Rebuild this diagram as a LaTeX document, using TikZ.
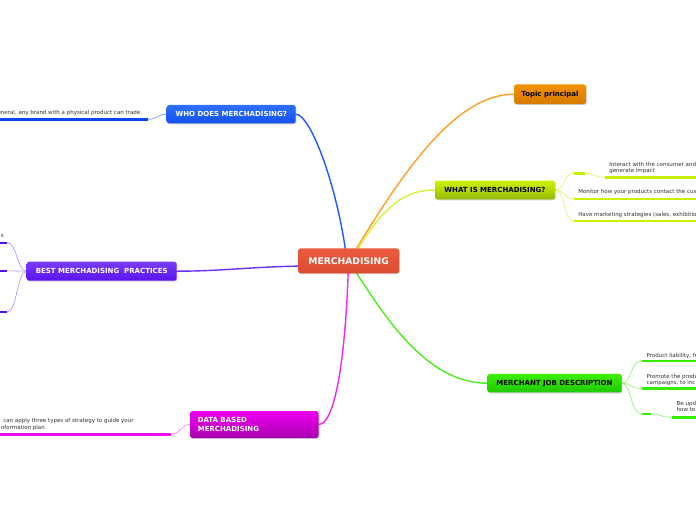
\documentclass[tikz,border=0pt]{standalone}
\usepackage{fontspec}
\setmainfont{DejaVu Sans}
\usetikzlibrary{shadows,backgrounds}
\definecolor{cenT}{HTML}{EC5A3E}
\definecolor{cenB}{HTML}{DC4C32}
\definecolor{topT}{HTML}{F29200}
\definecolor{topB}{HTML}{D67A00}
\definecolor{whaT}{HTML}{CDF200}
\definecolor{whaB}{HTML}{94BC00}
\definecolor{merT}{HTML}{3CF000}
\definecolor{merB}{HTML}{1EC800}
\definecolor{whoT}{HTML}{2E70FF}
\definecolor{whoB}{HTML}{1450F2}
\definecolor{besT}{HTML}{7A3CFF}
\definecolor{besB}{HTML}{5A14F0}
\definecolor{datT}{HTML}{F000F0}
\definecolor{datB}{HTML}{A800B0}
\definecolor{lnOra}{HTML}{FF9E2A}
\definecolor{lnYel}{HTML}{D8F23A}
\definecolor{lnGre}{HTML}{4CEE1E}
\definecolor{lnBlu}{HTML}{2258FF}
\definecolor{lnPur}{HTML}{6A30FF}
\definecolor{lnMag}{HTML}{F028F0}
\definecolor{thYel}{HTML}{DDF56A}
\definecolor{thGre}{HTML}{8CF070}
\definecolor{thBlu}{HTML}{7090FF}
\definecolor{thPur}{HTML}{A98BFF}
\definecolor{thMag}{HTML}{FF70FF}
\definecolor{ulYel}{HTML}{CCF000}
\definecolor{ulGre}{HTML}{38EE00}
\definecolor{ulBlu}{HTML}{0E44EE}
\definecolor{ulPur}{HTML}{5410EE}
\definecolor{ulMag}{HTML}{EE10EE}
\definecolor{leafgray}{HTML}{333333}
\begin{document}
\begin{tikzpicture}[x=1pt,y=-1pt,
  box/.style={rounded corners=2.5pt, inner sep=0pt, outer sep=0pt,
    font=\fontsize{7}{8.3}\selectfont\bfseries,
    drop shadow={opacity=0.3, shadow xshift=0.7pt, shadow yshift=-0.9pt, fill=black!60}},
  leaf/.style={font=\fontsize{5.5}{6.6}\selectfont, text=leafgray, inner sep=0pt, outer sep=0pt, align=left},
  mainln/.style={line width=1.4pt, line cap=round},
  twig/.style={line width=0.6pt},
  uline/.style={line width=2.4pt}]
\useasboundingbox (0,0) rectangle (696,520);

% main nodes
\node[box, minimum width=101pt, minimum height=25pt, top color=cenT, bottom color=cenB, text=white,
  font=\fontsize{9.2}{10}\selectfont\bfseries] (c) at (348.6,260.8) {MERCHADISING};
\node[box, minimum width=72pt, minimum height=19.7pt, top color=topT, bottom color=topB] (tp) at (550,94.2) {Topic principal};
\node[box, minimum width=120pt, minimum height=18.7pt, top color=whaT, bottom color=whaB] (wh) at (495,190) {WHAT IS MERCHADISING?};
\node[box, minimum width=134.4pt, minimum height=18.5pt, top color=merT, bottom color=merB] (me) at (554.5,383.2) {MERCHANT JOB DESCRIPTION};
\node[box, minimum width=129pt, minimum height=18.5pt, top color=whoT, bottom color=whoB, text=white] (wo) at (231.2,114.2) {WHO DOES MERCHADISING?};
\node[box, minimum width=150pt, minimum height=19pt, top color=besT, bottom color=besB, text=white] (be) at (101.7,271.2) {BEST MERCHADISING\ \ PRACTICES};
\node[box, minimum width=128.5pt, minimum height=27pt, top color=datT, bottom color=datB, text=white,
  align=left, text width=113pt] (da) at (254.3,424.5) {DATA BASED\\MERCHADISING};

% leaf texts
\node[leaf, anchor=north west] (t1) at (609.3,161.5) {\rule{0pt}{4.5pt}Interact with the consumer and\\generate impact};
\node[leaf, anchor=base west] (t2) at (578.3,193.8) {Monitor how your products contact the cus};
\node[leaf, anchor=base west] (t3) at (578.3,216.3) {Have marketing strategies (sales, exhibitio};
\node[leaf, anchor=base west] (mt1) at (646.7,357) {Product liability, fr};
\node[leaf, anchor=north west] (mt2) at (646.7,373.5) {\rule{0pt}{4.5pt}Promote the produ\\campaigns, to inc};
\node[leaf, anchor=north west] (mt3) at (676.7,400.8) {\rule{0pt}{4.5pt}Be upd\\how to};
\node[leaf, anchor=base east] (ot1) at (142,114.5) {eneral, any brand with a physical product can trade.};
\node[leaf, anchor=base west] (bt1) at (1,237.8) {s};
\node[leaf, anchor=north west] (dt1) at (3.3,418) {\rule{0pt}{4.5pt}can apply three types of strategy to guide your\\\hspace*{-2.3pt}nformation plan};

% coordinates
\coordinate (w1a) at (573.5,173.3); \coordinate (w1b) at (585,173.3);
\coordinate (w1c) at (605,177.3);   \coordinate (w1d) at (700,177.3);
\coordinate (w2a) at (574,198.7);   \coordinate (w2b) at (700,198.7);
\coordinate (w3a) at (574,220.7);   \coordinate (w3b) at (700,220.7);
\coordinate (m1a) at (641.7,361);   \coordinate (m1b) at (700,361);
\coordinate (m2a) at (641.7,388.5); \coordinate (m2b) at (700,388.5);
\coordinate (m3a) at (641.7,414);   \coordinate (m3b) at (650.5,414);
\coordinate (m3c) at (671.7,417.3); \coordinate (m3d) at (700,417.3);
\coordinate (o1a) at (148,119.3);   \coordinate (o1b) at (-3,119.3);
\coordinate (b1a) at (7.3,242.7);   \coordinate (b1b) at (-3,242.7);
\coordinate (b2a) at (7.3,270.8);   \coordinate (b2b) at (-3,270.8);
\coordinate (b3a) at (7.3,312);     \coordinate (b3b) at (-3,312);
\coordinate (d1a) at (171,434.3);   \coordinate (d1b) at (-3,434.3);

\begin{scope}[on background layer]
  \fill[white] (0,0) rectangle (696,520);
  % main connectors
  \draw[mainln, lnBlu] (c.105) .. controls (335,180) and (310,114.2) .. (wo.east);
  \draw[mainln, lnOra] (c.57) .. controls (410,160) and (460,94.2) .. (tp.west);
  \draw[mainln, lnYel] (c.52) .. controls (385,205) and (405,190) .. (wh.west);
  \draw[mainln, lnGre] (c.-57) .. controls (390,325) and (430,383.2) .. (me.west);
  \draw[mainln, lnMag] (c.-92) .. controls (345,360) and (335,424.5) .. (da.east);
  \draw[mainln, lnPur] (c.186) .. controls (250,267) and (220,271.2) .. (be.east);
  % what is
  \draw[twig, thYel] (wh.east) .. controls (565,190) and (563,173.3) .. (w1a);
  \draw[uline, ulYel] (w1a) -- (w1b);
  \draw[twig, thYel] (w1b) .. controls (596,173.3) and (594,177.3) .. (w1c);
  \draw[uline, ulYel] (w1c) -- (w1d);
  \draw[twig, thYel] (wh.east) .. controls (565,190) and (563,198.7) .. (w2a);
  \draw[uline, ulYel] (w2a) -- (w2b);
  \draw[twig, thYel] (wh.east) .. controls (565,190) and (563,220.7) .. (w3a);
  \draw[uline, ulYel] (w3a) -- (w3b);
  % merchant
  \draw[twig, thGre] (me.east) .. controls (632,383.2) and (630,361) .. (m1a);
  \draw[uline, ulGre] (m1a) -- (m1b);
  \draw[twig, thGre] (me.east) .. controls (632,383.2) and (630,388.5) .. (m2a);
  \draw[uline, ulGre] (m2a) -- (m2b);
  \draw[twig, thGre] (me.east) .. controls (632,383.2) and (630,414) .. (m3a);
  \draw[uline, ulGre] (m3a) -- (m3b);
  \draw[twig, thGre] (m3b) .. controls (662,414) and (660,417.3) .. (m3c);
  \draw[uline, ulGre] (m3c) -- (m3d);
  % who
  \draw[twig, thBlu] (wo.west) .. controls (157,114.2) and (158,119.3) .. (o1a);
  \draw[uline, ulBlu] (o1a) -- (o1b);
  % best
  \draw[twig, thPur] (be.west) .. controls (17,271.2) and (17,242.7) .. (b1a);
  \draw[uline, ulPur] (b1a) -- (b1b);
  \draw[twig, thPur] (be.west) -- (b2a);
  \draw[uline, ulPur] (b2a) -- (b2b);
  \draw[twig, thPur] (be.west) .. controls (17,271.2) and (17,312) .. (b3a);
  \draw[uline, ulPur] (b3a) -- (b3b);
  % data
  \draw[twig, thMag] (da.west) .. controls (181,424.5) and (180,434.3) .. (d1a);
  \draw[uline, ulMag] (d1a) -- (d1b);
\end{scope}
\end{tikzpicture}
\end{document}
